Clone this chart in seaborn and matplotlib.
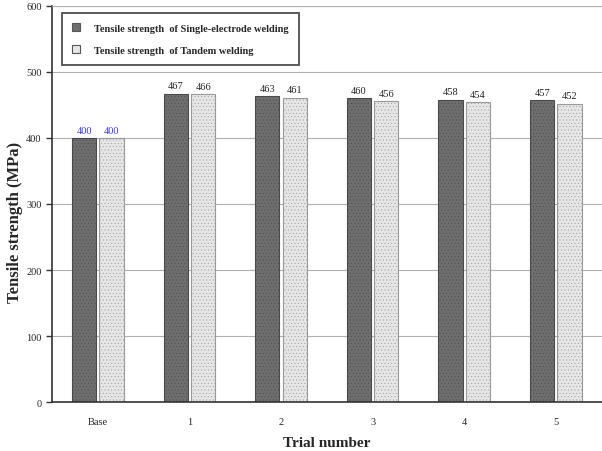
import numpy as np
import pandas as pd
import matplotlib
matplotlib.use('Agg')
import matplotlib.pyplot as plt
import seaborn as sns

# 数据
trials = ['Base', '1', '2', '3', '4', '5']
single = [400, 467, 463, 460, 458, 457]
tandem = [400, 466, 461, 456, 454, 452]
series = ['Tensile strength  of Single-electrode welding', 'Tensile strength  of Tandem welding']

df = pd.DataFrame({
    'trial': trials * 2,
    'value': single + tandem,
    'series': [series[0]] * len(trials) + [series[1]] * len(trials),
})

sns.set_style('white')
plt.rcParams['font.family'] = ['Liberation Serif', 'DejaVu Serif']
plt.rcParams['hatch.linewidth'] = 0.3

fig = plt.figure(figsize=(6.02, 4.52), dpi=100)
ax = fig.add_axes([0.0864, 0.108, 0.913, 0.877])

sns.barplot(data=df, x='trial', y='value', hue='series', order=trials,
            palette=['#6e6e6e', '#e6e6e6'], width=0.6, gap=0.12,
            edgecolor='#555555', linewidth=0.8, ax=ax, legend=True)

# 纹理
for i, bar in enumerate(ax.patches[:2 * len(trials)]):
    bar.set_hatch('.....')
    bar.set_edgecolor('#4a4a4a' if i < len(trials) else '#999999')

# 数值标签
for c_idx, cont in enumerate(ax.containers):
    vals = single if c_idx == 0 else tandem
    for j, (bar, v) in enumerate(zip(cont, vals)):
        color = '#3a3ae8' if j == 0 else '#222222'
        ax.text(bar.get_x() + bar.get_width() / 2, v + 5, str(v),
                ha='center', va='bottom', fontsize=7.5, color=color)

ax.set_ylim(0, 600)
ax.set_xlim(-0.5, len(trials) - 0.5)
ax.set_yticks(range(0, 601, 100))
ax.yaxis.grid(True, color='#b0b0b0', linewidth=0.8)
ax.set_axisbelow(True)

ax.set_xticks(np.arange(0.5, len(trials) - 0.5, 1), minor=True)
ax.tick_params(axis='x', which='major', length=0, labelsize=7.5, pad=11)
ax.tick_params(axis='x', which='minor', length=4, width=1, direction='out', color='#333333')
ax.tick_params(axis='y', length=4, width=1, direction='out', color='#333333', labelsize=7.5, left=True)

for s in ['left', 'bottom']:
    ax.spines[s].set_color('#333333')
    ax.spines[s].set_linewidth(1.2)
ax.spines['top'].set_color('#b0b0b0')
ax.spines['right'].set_visible(False)

ax.set_xlabel('Trial number', fontsize=11, fontweight='bold', labelpad=7)
ax.set_ylabel('Tensile strength (MPa)', fontsize=12, fontweight='bold')
ax.yaxis.set_label_coords(-0.053, 0.455)

leg = ax.legend(loc='upper left', bbox_to_anchor=(0.012, 0.99),
                frameon=True, fancybox=False, edgecolor='#222222', handlelength=0.8,
                handleheight=0.8, borderpad=1.0, labelspacing=1.2, handletextpad=1.3,
                borderaxespad=0.3, prop={'weight': 'bold', 'size': 7.5})
leg.get_frame().set_linewidth(1.3)

fig.savefig('out.png', dpi=100)
